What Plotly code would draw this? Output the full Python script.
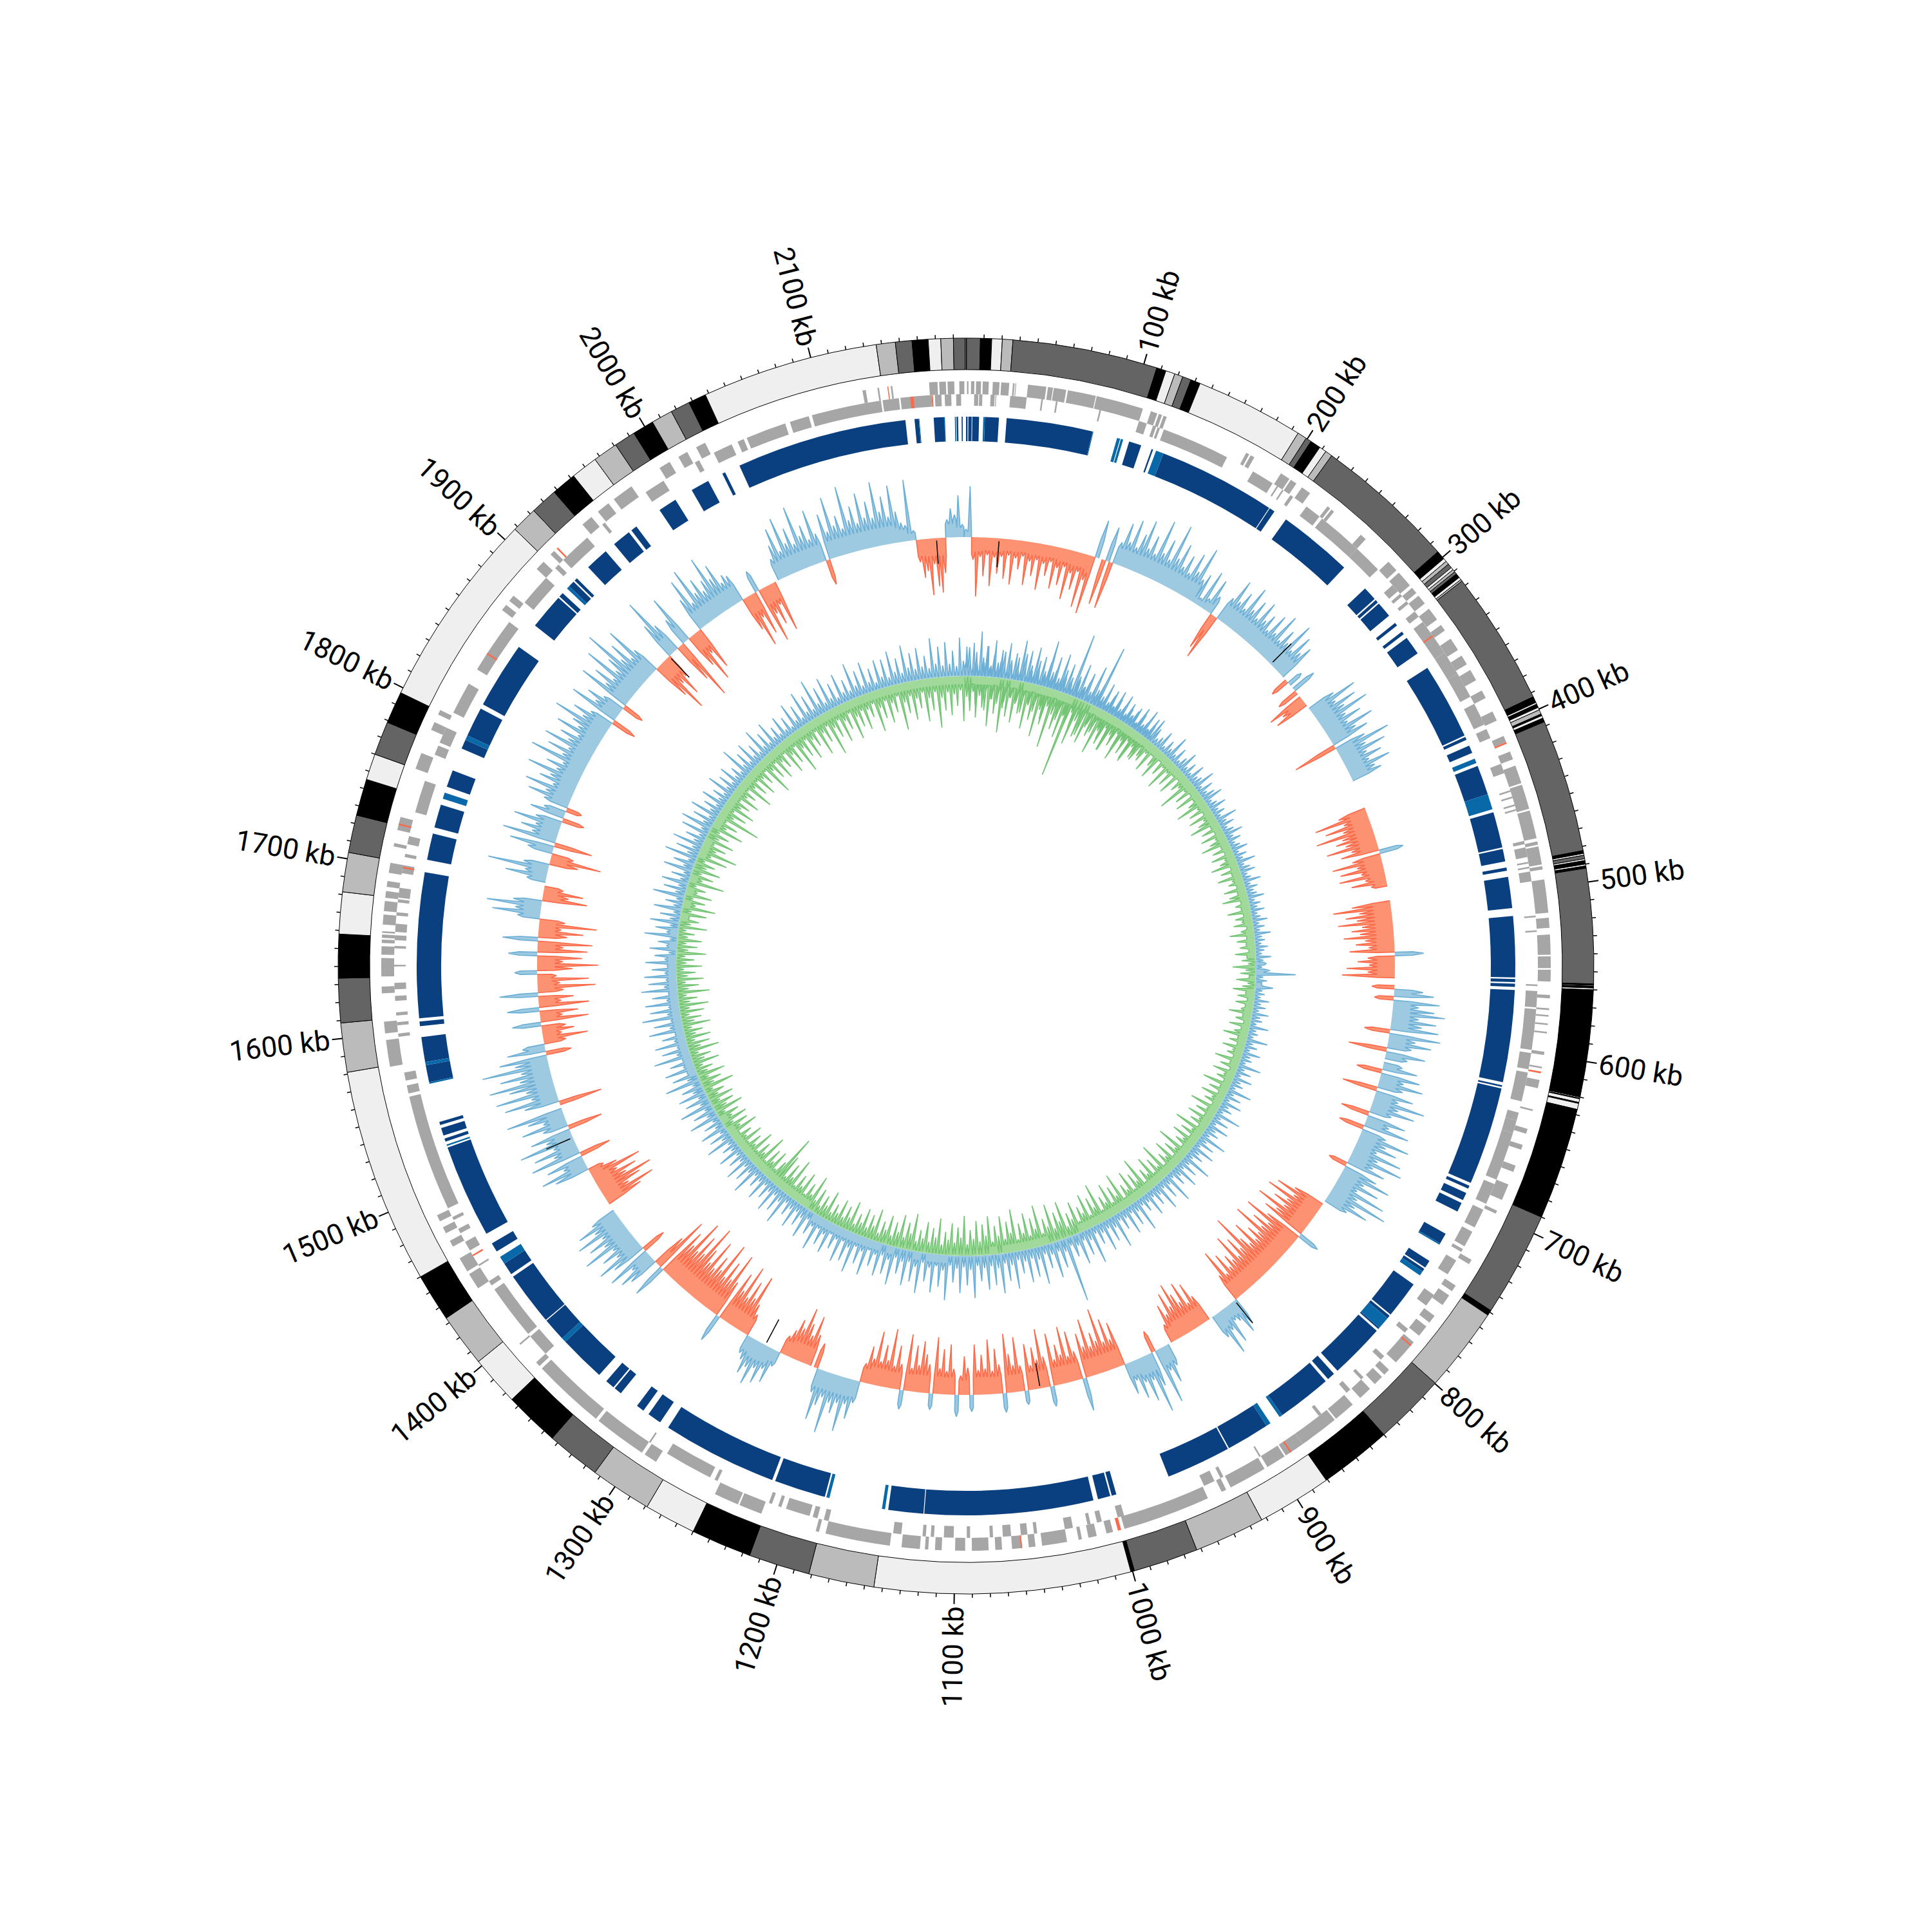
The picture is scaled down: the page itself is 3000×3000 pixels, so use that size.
import math
import plotly.graph_objects as go

GENOME_KB = 2187
FONT = "Roboto, sans-serif"
C = {"d": "#646464", "k": "#000000", "w": "#efefef", "g": "#bbbbbb"}

band_edges = [0,0.3,8,14.3,20.2,26.1,107.5,112.8,118,122.7,127.6,133,194,199.3,202.5,208.4,212.4,216.4,296,301,303,305,307.5,309,310.5,312,314.5,316,317,
 392.5,396,397,399,400.5,403,404,405.5,407.7,482.4,484,485,487,488,490,491,492.3,556.7,557.5,558,559,560,620,620.6,621,623,623.6,627,690,749,752,799.7,840,880.8,922.8,962.5,999,1001,1144.8,1181.6,1216,1250,1279,1313.6,1344,1375,1403,1433,1460,1581,1608.6,1633.5,1658,1681.5,1703.6,1724.7,1745.3,1760,1779,1797,1908,1922.7,1938,1952,1967,1981,1993,2005,2017,2028,2038,2137,2147.7,2157,2166,2173,2180,2186.5]
band_kinds = list("k" "d" "k" "w" "g" "d" "k" "w" "g" "d" "k" "w" "g" "d" "k" "w" "g" "d" "k" "w" "g" "d" "w" "g" "d" "k" "w" "g" "d"
 "k" "w" "k" "w" "g" "k" "w" "k" "d" "k" "w" "d" "w" "k" "w" "k" "d" "k" "w" "k" "w" "k" "w" "k" "w" "k" "w" "k" "d" "k" "g" "d" "k" "w" "g" "d" "k" "w" "g" "d" "k" "w" "g" "d" "k" "w" "g" "k" "w" "g" "d" "k" "w" "g" "d" "k" "w" "d" "k" "w" "g" "d" "k" "w" "g" "d" "k" "g" "d" "k" "w" "g" "d" "k" "w" "g" "d" "w")

gene_outer = [(0.6,1.5),(3,5),(6,9),(10,13.6),(16,20),(21,25.8),(28,29),(29.5,30),(37,48),(49,52),(52.5,60),(61,78),(78.5,107),(112,116),(117,119),(120,122),(174,176),(177,179.5),(198,204),(205,209),(213,219),(232,234),(235,237),(258,262),(281,288),(290,300),(302,306),(308,314),(318,326),(330,334),(340,348),(352,358),(362,369),(376,381),(390,396),(406,410),(416,421),(425,436),(437,452),(453,470),(472,474),(475,486),(487,489),(495,515),(518,524),(528,540),(541,548),(549,556),(564,566),(572,573),(576,577),(581,582),(586,587),(598,600),(607,608),(615,620),(633,634),(645,648),(655,658),(668,672),(680,690),(697,699),(730,733),(748,752),(755,762),(770,775),(778,785),(790,806),(812,816),(818,824),(828,836),(842,855),(856,880),(880,892),(893,905),(907,930),(933,936),(945,998),(1005,1009),(1015,1020),(1024,1026),(1033,1048),(1052,1056),(1060,1066),(1072,1076),(1080,1090),(1094,1100),(1108,1112),(1116,1118),(1121,1132),(1139,1178),(1182,1184),(1218,1232),(1233,1248),(1288,1296),(1298,1330),(1332,1376),(1378,1381),(1395,1396),(1437,1447),(1449,1458),(1466,1470),(1475,1479),(1483,1487),(1580,1596),(1600,1607),(1624,1628),(1634,1645),(1647,1652),(1654,1656),(1657,1659),(1660,1661),(1665,1671),(1673,1679),(1681,1685),(1687.5,1691),(1696,1702),(1712,1714),(1722,1730),(1760,1770),(1785,1790),(1795,1798),(1868,1872),(1875,1879),(1900,1906),(1912,1915),(1938,1945),(1950,1958),(1962,1975),(1995,2002),(2008,2014),(2020,2026),(2125,2127),(2134,2135),(2142,2143),(2165,2170),(2171,2175),(2176,2180),(2183,2186)]
gene_inner = [(5,7.5),(8,10),(15,17.5),(18,18.5),(27,37),(46,47),(55,56),(82,83),(107,112),(116,118),(119,120.5),(123,165),(183,197),(200,201),(204,205),(210,212),(222,232),(234,262),(262,280),(293,298),(300,302),(306,308),(314,318),(322,345),(345,360),(360,376),(381,395),(398,404),(421,427),(438,439),(442,443),(447,448),(450,451),(470,472),(474,480),(483,484),(486,487),(489,495),(516,517),(525,526),(558,559),(562,572),(573,598),(600,610),(612,630),(637,642),(642,650),(650,680),(683,696),(700,712),(715,725),(727,729),(735,745),(760,768),(786,789),(808,811),(826,828),(837,840),(860,862),(905,906),(931,933),(937,944),(996,1000),(1010,1013),(1017,1019),(1028,1033),(1050,1052),(1056,1060),(1066,1071),(1077,1079),(1091,1093),(1101,1107),(1113,1115),(1118,1120),(1133,1138),(1178,1181),(1185,1188),(1190,1205),(1208,1210),(1214,1216),(1250,1252),(1255,1285),(1297,1298),(1381,1395),(1397,1431),(1434,1437),(1448,1449),(1459,1465),(1471,1474),(1480,1482),(1488,1560),(1562,1567),(1570,1575),(1597,1599),(1604,1606),(1610,1612),(1619,1622),(1626,1630),(1640,1641),(1651,1652.5),(1656,1659),(1661,1666),(1671,1673),(1679,1681),(1682,1688),(1697,1702),(1707,1709),(1715,1720),(1735,1755),(1772,1778),(1780,1790),(1800,1820),(1830,1865),(1880,1900),(1908,1911),(1915,1935),(1947,1949),(1980,1993),(2015,2018),(2028,2040),(2044,2048),(2050,2075),(2078,2090),(2092,2135),(2136,2146),(2147,2166),(2168,2172),(2174,2178),(2181,2184)]
gene_red_outer = [(410,411),(610,611),(792,793),(888,889),(1000,1002),(1060,1060.8),(1725,1726),(1917,1918),(2140,2140.6)]
gene_red_inner = [(332,333),(1455,1456),(1700,1701),(1841,1842),(2153,2155),(2166,2166.8)]

blue_dark = [(0,1),(1.5,3.6),(4,8.3),(12,20.9),(25.8,81),(105,113),(120,121),(128,203.5),(204,207.5),(216.4,264.3),(283,292),(293,295),(296,306),(312,314),(319,321),(324,336),(347,396),(397,399),(403,408),(417,436),(448,471),(472,480),(484,486),(490,510),(515,554),(555,557),(558,560),(562,621),(623,624),(625,688),(690,692),(695,700),(702,708),(724,731),(744,749),(750,752),(762,786),(787,789),(797,798),(799.5,835),(838,843),(845,880),(892,919.7),(920.5,962),(997,1000),(1001,1009),(1012,1120),(1120.5,1143),(1184,1217),(1219,1293),(1299,1308),(1312,1317),(1330,1335),(1336,1342),(1348,1378),(1381,1396),(1396.6,1431),(1433,1441),(1450,1456),(1463,1523),(1527,1529),(1531,1536),(1538,1540),(1566,1577),(1579,1595),(1602,1605),(1607,1700),(1708,1725),(1729,1744),(1756,1767),(1782,1788),(1791,1810),(1813,1856),(1873,1896),(1897,1900),(1906,1910),(1911,1913),(1923,1938),(1945,1957),(1959,1963),(1981,1993),(2005,2017),(2027,2029),(2039,2148.5),(2154.3,2157),(2166.5,2173.2),(2181,2182),(2184.2,2184.9)]
blue_light = [(11,12),(81,81.5),(97,99),(99.5,101),(123,128),(412,415),(436,446),(731,732),(752,755),(789,797),(880,882),(889,892),(1145,1147),(1181,1183),(1378,1381),(1441,1446),(1524,1525),(1565,1566),(1577,1579),(1748,1752),(1788,1791),(1904,1906),(2157,2157.4),(2173,2173.6),(2179.9,2180.6)]

skew_a = [12,79,-35,-92,-30,-60,-27,-75,-30,-55,-28,-62,-25,-70,-28,-45,-24,-68,-30,-52,-26,-72,-30,-48,-25,-66,-32,-58,-28,-78,-35,-60,-30,-85,-40,-92,60,0,-72,55,-75,35,68,40,78,36,60,85,42,65,38,96,45,70,40,100,48,75,40,62,36,72,45,88,38,50,12,62,18,55,30,-60,-74,40,75,42,62,38,80,45,65,38,72,44,58,35,68,40,78,36,60,42,82,38,70,45,60,0,-30,25]
skew_b = [0,40,-35,0,-60,-40,-55,0,45,80,40,72,48,85,42,65,38,78,45,62,-70,50,88,45,75,40,62,38,70,42,50,0,0,0,0,0,0,0,0,-45,-85,-40,-72,-45,-90,-50,-62,-48,-80,-42,-60,38,-45,-78,-40,-68,-36,-72,-32,-55,-25,0,0,0,0,-60,-90,-50,-72,-55,-85,-48,-65,-52,-78,-45,-60,-40,-70,45,-42,-58,-40,-75,-42,-82,0,0,-35,45,62,-30,72,40,65,82,42,70,48,75]
skew_c = [-40,80,42,68,38,-60,62,35,0,30,55,-40,62,38,70,40,-55,60,38,82,42,70,35,-45,62,38,72,-40,40,80,45,65,35,78,42,85,40,62,-30,55,80,40,68,35,85,42,95,45,70,38,0,-50,-78,-45,-88,-50,-70,-48,-92,-55,-72,35,-60,-95,-50,-75,-55,-100,-52,-68,-48,-85,-50,-65,-110,-55,-78,-48,-90,-50,-62,-45,-72,-40,-85,-45,45,55,30,25,60,35,72,40,0,-45,-70,-40,-78,-48]
skew_d = [-65,-85,-50,-75,-42,-60,-30,0,35,60,38,88,-35,55,95,40,72,38,62,30,50,-70,-45,-80,-45,-100,-50,-65,-45,-90,-48,-70,52,-45,-78,-40,-88,-45,-62,-40,-82,32,-48,-92,-45,-65,-38,-72,22,-40,-85,-42,-60,-92,30,-45,-70,-36,-85,-40,-62,-38,-78,26,-42,-60,-30,34,-40,-78,-36,-70,-40,-88,25,-45,-60,-80,-42,-72,-36,-88,30,-40,-68,-35,-92,-42,-65,-38,-84,-40,-58,-30,35,62,40,85,42,60]
skew_e = [45,95,40,55,80,38,-40,0,-50,-78,-45,-62,-85,-50,-62,-42,-30,25,55,35,62,40,70,45,58,38,30,-35,-50,-95,-55,-80,-50,-100,-55,-82,45,-60,-105,-58,-85,-55,-110,-60,-80,-55,-100,-58,-78,-115,-62,-90,-58,-108,-60,-80,55,-92,-55,48,62,35,72,-40,55,78,40,62,38,85,45,68,40,80,45,70,42,0,0,-60,-85,-45,-68,-90,-50,-70,-40,-82,-45,-25,55,75,35,60,-50,80,40,70,35,88]
skew_f = [42,65,-55,40,72,35,58,90,0,-68,55,85,40,95,45,70,100,50,80,45,105,52,75,-40,60,35,-35,-70,-30,-50,-38,45,-75,-35,-60,50,-78,-35,-55,60,-40,-90,-35,-80,-30,35,-55,-95,-40,-70,45,-78,-40,-85,55,-45,-70,-35,-90,-40,35,75,40,85,45,-70,-40,-62,-30,0,30,65,35,95,40,-45,-80,-35,40,70,-60,85,40,60,38,75,42,-35,55,35,-25,40,68,42,78,35,60,45,85,40]
skew_g = [60,35,92,42,70,38,82,45,62,35,75,42,55,90,45,65,38,-40,80,42,60,35,-35,85,45,70,40,95,45,65,110,50,75,40,90,45,-60,-90,-45,-70,-40,60,100,50,-65,-100,45,80,-55,-85,-40,-70,55,85,40,95,50,70,45,60,95,55,75,40,50,45,-55,-85,-40,-70,35,-88,-45,-65,-35,-80,0,35,55,80,40,92,48,70,42,100,50,65,40,85,45,-40,72,42,95,48,62,40,105,50]
skew_h = [70,42,88,48,72,45,100,52,75,42,90,48,30,25,95,15,-35,-60,-50,-88,-40,-75,-85,-55,28,45,35,65,20]

black_kb = [27,275,858,1033,1263,1497,1921,2163]
black_val = [-45,45,45,-40,-45,45,-45,-40]

gc_out_a = [22,45,14,38,12,30,48,15,35,12,26,42,14,30,10,36,18,44,12,28,16,38,10,24,40,14,30,12,22,36,10,28,14,34,12,20,32,10,26,14,38,12,22,10,30,14,42,12,24,10,34,16,28,10,40,12,22,14,36,10,26,12,18,32,10,24,14,40,12,28,10,20,34,12,24,10,30,14,18,36,10,26,12,22,32,10,16,28,12,20,10,34,14,24,10,18,30,12,22,10]
gc_out_b = [16,26,10,20,12,30,10,18,24,10,14,28,10,20,12,16,26,10,18,12,22,10,14,24,10,18,10,26,12,16,10,20,14,10,24,12,16,10,22,62,12,18,10,28,12,16,10,24,12,20,10,26,14,18,10,30,12,16,10,34,12,20,10,28,14,18,10,36,12,24,10,30,14,20,10,38,12,26,10,32,14,22,10,42,12,28,10,34,16,24,12,44,14,30,10,38,16,26,12,48]
gc_out_c = [14,32,12,42,16,28,10,50,14,34,12,46,16,30,12,40,14,26,12,52,16,36,12,44,14,30,12,54,18,38,14,48,16,32,12,58,18,40,14,50,18,34,14,102,20,44,16,56,18,38,14,60,20,46,16,52,18,36,14,58,20,44,16,62,22,48,18,54,20,40,16,66,22,46,18,58,20,42,16,70,24,50,18,60,22,44,16,64,24,48,18,56,20,40,16,60,22,46,18,52]
gc_out_d = [20,40,16,58,22,44,18,62,24,48,18,54,20,38,16,50,22,42,18,56,20,36,14,48,18,34,14,44,16,30,12,52,18,38,14,46,16,32,12,42,14,28,12,50,16,36,14,44,14,30,12,40,14,26,12,46,16,34,12,42,14,30,12,48,16,36,14,52,16,38,14,44,18,34,14,56,18,40,14,48,16,36,14,58,20,42,16,50,18,36,14,54,20,44,16,60,20,46,16,52]
gc_out_e = [18,40,14,56,20,44,16,50,18,38,14,48,18,34,12,42,16,30,12,52,18,36,14,46,16,32,12,44,14,28,12,50,16,36,14,42,14,30,12,46,16,34,12,52,18,38,14,48,16,32,12,44,14,50,16,36,12,46,16,30,12,40,14,28,12,44,14,32,12,38,14,26,12,52,16,34,12,42,14,30,12,48,14,34,12,44,14,28,12,38,12,30,10,46,14,36,12,52,16,40]
gc_out_f = [14,60,18,42,14,52,16,38,12,48,16,34,14,56,18,40,14,50,16,36,12,46,18,44,14,54,20,40,16,58,22,44,18,50,20,36,16,62,22,48,18,54,20,40,16,60,24,46,18,52,20,70,22,48,18,58,24,44,18,56,22,42,16,64,24,50,20,58,22,46,18,74,26,52,20,60,24,48,18,100,28,56,22,46,18,62,26,100,20,44,16,38,14,30,16,42,14,26,18,34]
gc_out_g = [12,30,16,44,14,24,40]

gc_in_a = [20,38,12,44,16,30,52,14,34,12,40,18,46,14,28,12,36,20,48,14,32,12,42,16,30,50,14,36,12,28,44,16,34,130,18,48,14,30,54,16,36,12,40,18,28,44,14,58,16,34,12,46,20,32,14,50,16,28,42,12,36,18,46,14,30,48,12,34,16,52,18,38,14,44,12,30,20,58,16,36,12,42,14,26,50,16,34,12,40,18,30,46,14,32,12,38,16,28,44,14]
gc_in_b = [30,12,36,16,26,42,12,30,14,38,16,24,12,34,14,28,40,12,22,14,36,12,26,16,30,10,20,38,12,28,14,24,10,32,14,22,12,36,16,24,10,30,12,20,34,14,26,10,28,12,18,36,14,24,10,32,12,22,38,14,26,12,34,16,24,12,40,14,28,10,36,16,26,12,44,14,30,12,38,18,28,12,46,16,32,14,40,18,30,12,50,18,34,14,42,20,30,14,54,20]
gc_in_c = [36,14,46,22,32,14,56,20,38,16,48,22,34,14,60,24,40,16,50,22,34,14,58,24,42,18,52,24,36,16,62,26,44,18,54,26,38,16,50,24,36,16,58,28,44,20,60,26,40,18,64,28,46,20,56,26,42,18,66,30,48,22,58,28,44,20,60,30,48,22,54,26,40,18,62,28,44,20,50,24,36,16,56,26,40,18,48,22,34,16,58,26,42,18,52,24,38,16,46,22]
gc_in_d = [34,14,50,22,38,16,44,20,32,14,48,20,36,16,42,18,30,14,46,20,34,14,40,18,56,22,38,16,50,24,40,18,60,26,46,20,54,85,36,18,46,24,42,16,58,24,38,18,50,22,36,16,44,20,32,14,48,22,38,16,42,20,34,14,46,22,36,16,40,18,30,14,50,20,34,16,44,18,28,14,42,20,32,14,48,20,36,14,40,18,30,14,44,20,32,14,38,16,46,18]
gc_in_e = [30,14,50,18,34,14,42,18,30,12,40,16,28,14,46,18,32,14,38,16,26,12,44,18,30,14,40,16,52,20,34,14,42,18,30,14,56,20,36,16,44,20,32,14,48,20,60,24,38,16,46,20,34,16,52,22,38,16,70,24,42,18,50,24,36,16,46,22,34,16,56,22,40,18,48,22,36,16,62,24,42,18,50,24,38,16,54,26,44,18,66,28,46,20,56,26,40,18,60,26]
gc_in_f = [44,20,70,28,46,20,58,26,42,18,62,28,46,22,54,24,38,18,64,28,46,20,56,26,42,18,72,30,48,22,60,28,44,20,66,30,50,22,78,32,52,24,60,28,46,22,70,32,54,24,64,30,48,22,76,34,56,26,84,36,58,28,66,32,50,24,72,34,56,26,80,36,58,28,92,38,60,28,70,32,52,24,74,34,58,26,64,30,48,24,72,32,52,22,58,28,44,20,62,26]
gc_in_g = [46,20,54,24,40,18,30]

mid_values = skew_a + skew_b + skew_c + skew_d + skew_e + skew_f + skew_g + skew_h
gc_out = gc_out_a + gc_out_b + gc_out_c + gc_out_d + gc_out_e + gc_out_f + gc_out_g
gc_in = gc_in_a + gc_in_b + gc_in_c + gc_in_d + gc_in_e + gc_in_f + gc_in_g
MID_STEP, GC_STEP = 3, 4
R_MID, R_GC = 666, 450

tick_major = list(range(100, 2101, 100))
tick_minor = [k for k in range(10, 2181, 10) if k % 100]

def deg(kb):
    return kb * 360 / GENOME_KB

fig = go.Figure()

def bars(intervals, r0, r1, color):
    fig.add_trace(go.Barpolar(
        theta=[deg((a + b) / 2) for a, b in intervals],
        width=[deg(b - a) for a, b in intervals],
        r=[r1 - r0] * len(intervals), base=[r0] * len(intervals),
        marker=dict(color=color, line=dict(width=0)), hoverinfo="skip"))

edges = band_edges + [GENOME_KB]
n = min(len(band_kinds), len(edges) - 1)
fig.add_trace(go.Barpolar(
    theta=[deg((edges[i] + edges[i + 1]) / 2) for i in range(n)],
    width=[deg(edges[i + 1] - edges[i]) for i in range(n)],
    r=[49] * n, base=[926] * n,
    marker=dict(color=[C[band_kinds[i]] for i in range(n)], line=dict(width=1, color="#000000")), hoverinfo="skip"))

def seg_lines(kbs, r0, r1, width):
    th, rr = [], []
    for k in kbs:
        th += [deg(k), deg(k), None]
        rr += [r0, r1, None]
    fig.add_trace(go.Scatterpolar(theta=th, r=rr, mode="lines", line=dict(color="#000000", width=width), hoverinfo="skip"))

seg_lines(tick_minor, 975, 981, 1.5)
seg_lines(tick_major, 975, 991, 2)

bars(gene_outer, 888, 908, "#a6a6a6")
bars(gene_inner, 870, 888, "#a6a6a6")
bars(gene_red_outer, 888, 908, "#fb6a4a")
bars(gene_red_inner, 870, 888, "#fb6a4a")
bars(blue_dark, 815, 853, "#0a3f80")
bars(blue_light, 815, 853, "#0868a8")

def needle_profile(ks, mags, half, plateaus):
    """Each reading is drawn as a narrow needle standing on a plateau."""
    pk, pv = [], []
    for k, m, p in zip(ks, mags, plateaus):
        pk += [k - half, k, k + half]
        pv += [min(p, m), m, min(p, m)]
    return pk, pv

def skew_layer(sign, fill, line):
    ft, fr, lt, lr = [], [], [], []
    i, N = 0, len(mid_values)
    while i < N:
        if mid_values[i] * sign <= 0:
            i += 1
            continue
        j = i
        while j + 1 < N and mid_values[j + 1] * sign > 0:
            j += 1
        ks = [MID_STEP * q for q in range(i, j + 1)]
        mags = [abs(mid_values[q]) for q in range(i, j + 1)]
        plats = []
        for q in range(len(mags)):
            around = mags[max(q - 1, 0):q + 2]
            plats.append(min(min(around) * 0.75, 28))
        pk, pv = needle_profile(ks, mags, 1.35, plats)
        th = [deg(pk[0] - 0.1)] + [deg(k) for k in pk] + [deg(pk[-1] + 0.1)]
        rr = [R_MID] + [R_MID + sign * v for v in pv] + [R_MID]
        back = [deg(ks[-1] - 3 * q) for q in range(len(ks))]
        ft += th + back + [th[0], None]
        fr += rr + [R_MID] * len(back) + [R_MID, None]
        lt += th + [None]
        lr += rr + [None]
        i = j + 1
    fig.add_trace(go.Scatterpolar(theta=ft, r=fr, mode="lines", fill="toself", fillcolor=fill, line=dict(width=0), hoverinfo="skip"))
    fig.add_trace(go.Scatterpolar(theta=lt, r=lr, mode="lines", line=dict(color=line, width=1.6), hoverinfo="skip"))

skew_layer(1, "#9ecae1", "#6baed6")
skew_layer(-1, "#fc9272", "#fb6a4a")
th, rr = [], []
for k, v in zip(black_kb, black_val):
    th += [deg(k), deg(k), None]
    rr += [R_MID + v * 0.1, R_MID + v, None]
fig.add_trace(go.Scatterpolar(theta=th, r=rr, mode="lines", line=dict(color="#000000", width=1.5), hoverinfo="skip"))

def gc_layer(values, other, sign, fill, line):
    ks = [GC_STEP * q for q in range(len(values))]
    plats = []
    for q in range(len(values)):
        lo, hi = max(q - 4, 0), q + 5
        plats.append(13 if sum(values[lo:hi]) > sum(other[lo:hi]) else 2)
    pk, pv = needle_profile(ks, values, 1.6, plats)
    t = [deg(k) for k in pk]
    rs = [R_GC + sign * v for v in pv]
    fig.add_trace(go.Scatterpolar(theta=t + t[::-1], r=rs + [R_GC] * len(t), mode="lines", fill="toself", fillcolor=fill, line=dict(width=0), hoverinfo="skip"))
    fig.add_trace(go.Scatterpolar(theta=t, r=rs, mode="lines", line=dict(color=line, width=1.6), hoverinfo="skip"))

gc_layer(gc_out, gc_in, 1, "#9ecae1", "#6baed6")
gc_layer(gc_in, gc_out, -1, "#a1d99b", "#74c476")

FONT_SIZE = 44
annotations = []
for k in tick_major:
    a = deg(k)
    length = FONT_SIZE * (3.0 if k < 1000 else 3.56)
    rc = 994 + length / 2
    rot = a - 90 if a < 180 else a + 90
    rot = (rot + 180) % 360 - 180
    annotations.append(dict(
        x=0.5 + rc * math.sin(math.radians(a)) / 3000,
        y=0.5 + rc * math.cos(math.radians(a)) / 3000,
        xref="paper", yref="paper", text=f"{k} kb", showarrow=False, textangle=rot,
        xanchor="center", yanchor="middle", font=dict(family=FONT, size=FONT_SIZE, color="#000000")))

fig.update_layout(
    width=3000, height=3000, margin=dict(l=0, r=0, t=0, b=0), showlegend=False,
    paper_bgcolor="#ffffff", annotations=annotations,
    polar=dict(
        domain=dict(x=[0, 1], y=[0, 1]), bgcolor="#ffffff", barmode="overlay",
        radialaxis=dict(visible=False, range=[0, 1500]),
        angularaxis=dict(visible=False, rotation=90, direction="clockwise", thetaunit="degrees")))
fig.write_html("out.html", post_script="document.body.style.margin='0';", config=dict(displayModeBar=False))
